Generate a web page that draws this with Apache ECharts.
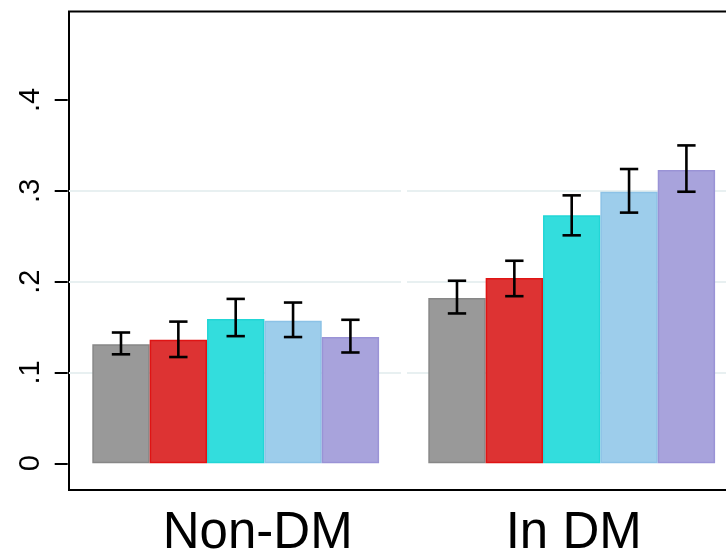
<!DOCTYPE html>
<html>
<head>
<meta charset="utf-8">
<script src="https://cdn.jsdelivr.net/npm/echarts@6/dist/echarts.min.js"></script>
<style>
  html, body { margin: 0; padding: 0; background: #fff; }
  #chart { width: 726px; height: 560px; }
</style>
</head>
<body>
<div id="chart"></div>
<script>
// Groups on the x axis
const categories = ['Non-DM', 'In DM'];

// Y axis ticks and their printed labels
const yTicks = [0, 0.1, 0.2, 0.3, 0.4];
const yTickLabels = ['0', '.1', '.2', '.3', '.4'];

// Mean per group, one array per bar colour
const meanGray     = [0.131, 0.182];
const meanRed      = [0.136, 0.204];
const meanCyan     = [0.159, 0.273];
const meanSky      = [0.157, 0.299];
const meanLavender = [0.139, 0.323];

// Confidence interval bounds per group
const lowGray      = [0.120, 0.165];
const highGray     = [0.144, 0.201];
const lowRed       = [0.117, 0.184];
const highRed      = [0.156, 0.223];
const lowCyan      = [0.140, 0.251];
const highCyan     = [0.181, 0.295];
const lowSky       = [0.139, 0.276];
const highSky      = [0.177, 0.324];
const lowLavender  = [0.122, 0.299];
const highLavender = [0.158, 0.350];

const barSets = [
  { name: 'Gray',     mean: meanGray,     low: lowGray,     high: highGray,     fill: '#999999', edge: '#878787' },
  { name: 'Red',      mean: meanRed,      low: lowRed,      high: highRed,      fill: '#dd3333', edge: '#e01414' },
  { name: 'Cyan',     mean: meanCyan,     low: lowCyan,     high: highCyan,     fill: '#33dddd', edge: '#22d6d6' },
  { name: 'Sky',      mean: meanSky,      low: lowSky,      high: highSky,      fill: '#9dcdeb', edge: '#8cc2e6' },
  { name: 'Lavender', mean: meanLavender, low: lowLavender, high: highLavender, fill: '#a8a3dc', edge: '#9a93d6' }
];

const BAR_FRAC = 0.1707;          // bar width as share of a category band
const gridColor = '#e8f0f1';

const chart = echarts.init(document.getElementById('chart'), null, { renderer: 'canvas' });

const barSeries = barSets.map(s => ({
  name: s.name,
  type: 'bar',
  xAxisIndex: 0,
  yAxisIndex: 0,
  barWidth: (BAR_FRAC * 100).toFixed(2) + '%',
  barGap: '0%',
  data: s.mean,
  itemStyle: { color: s.fill, borderColor: s.edge, borderWidth: 1.5 },
  emphasis: { disabled: true },
  z: 2
}));

// rows: [category index, slot within group, low, high]
const ciRows = [];
barSets.forEach((s, slot) => {
  categories.forEach((c, i) => ciRows.push([i, slot, s.low[i], s.high[i]]));
});

const errorSeries = {
  type: 'custom',
  xAxisIndex: 0,
  yAxisIndex: 0,
  z: 5,
  data: ciRows,
  encode: { x: 0, y: [2, 3] },
  renderItem: function (params, api) {
    const cat = api.value(0);
    const slot = api.value(1);
    const band = api.size([1, 0])[0];
    const barW = band * BAR_FRAC;
    const lo = api.coord([cat, api.value(2)]);
    const hi = api.coord([cat, api.value(3)]);
    const x = lo[0] + (slot - (barSets.length - 1) / 2) * barW;
    const cap = barW * 0.16;
    const st = { stroke: '#000', lineWidth: 2.6, lineCap: 'butt' };
    return {
      type: 'group',
      children: [
        { type: 'line', shape: { x1: x, y1: lo[1], x2: x, y2: hi[1] }, style: st },
        { type: 'line', shape: { x1: x - cap, y1: lo[1], x2: x + cap, y2: lo[1] }, style: st },
        { type: 'line', shape: { x1: x - cap, y1: hi[1], x2: x + cap, y2: hi[1] }, style: st }
      ]
    };
  }
};

const hiddenAxis = (gi) => ({ gridIndex: gi, type: 'value', show: false });
const gridLineAxis = (gi) => ({
  gridIndex: gi, type: 'value', min: yTicks[1], max: yTicks[3], interval: 0.1,
  axisLine: { show: false }, axisTick: { show: false }, axisLabel: { show: false },
  splitLine: { show: true, lineStyle: { color: gridColor, width: 2 } }
});

const option = {
  backgroundColor: '#ffffff',
  animation: false,
  grid: [
    // plotting area for bars and value axis (0 .. .4)
    { left: 67.7, top: 100, width: 672, height: 363.3, containLabel: false, outerBoundsMode: 'none' },
    // outer frame
    { left: 69, top: 11.5, width: 700, height: 478.5, show: true, borderColor: '#000', borderWidth: 2,
      backgroundColor: 'transparent', outerBoundsMode: 'none' },
    // gridlines .1 – .3, left panel
    { left: 69, top: 190.9, width: 332, height: 181.7, outerBoundsMode: 'none' },
    // gridlines .1 – .3, right panel
    { left: 407, top: 190.9, width: 340, height: 181.7, outerBoundsMode: 'none' }
  ],
  xAxis: [
    {
      gridIndex: 0,
      type: 'category',
      data: [
        { value: categories[0], textStyle: { padding: [0, 0, 0, 44] } },
        { value: categories[1], textStyle: { padding: [0, 0, 0, 4] } }
      ],
      axisLine: { show: false },
      axisTick: { show: false },
      axisLabel: { margin: 45, fontSize: 51, fontFamily: 'Liberation Sans', color: '#000' },
      splitLine: { show: false }
    },
    hiddenAxis(1),
    hiddenAxis(2),
    hiddenAxis(3)
  ],
  yAxis: [
    {
      gridIndex: 0,
      type: 'value',
      min: yTicks[0],
      max: yTicks[yTicks.length - 1],
      interval: 0.1,
      axisLine: { show: false },
      axisTick: { show: true, length: 13, lineStyle: { color: '#000', width: 2 } },
      axisLabel: {
        rotate: 90,
        margin: 22,
        fontSize: 29,
        fontFamily: '"Liberation Sans Narrow", "Liberation Sans", sans-serif',
        color: '#000',
        formatter: v => yTickLabels[Math.round(v * 10)]
      },
      splitLine: { show: false }
    },
    hiddenAxis(1),
    gridLineAxis(2),
    gridLineAxis(3)
  ],
  series: [...barSeries, errorSeries]
};

chart.setOption(option);
</script>
</body>
</html>
